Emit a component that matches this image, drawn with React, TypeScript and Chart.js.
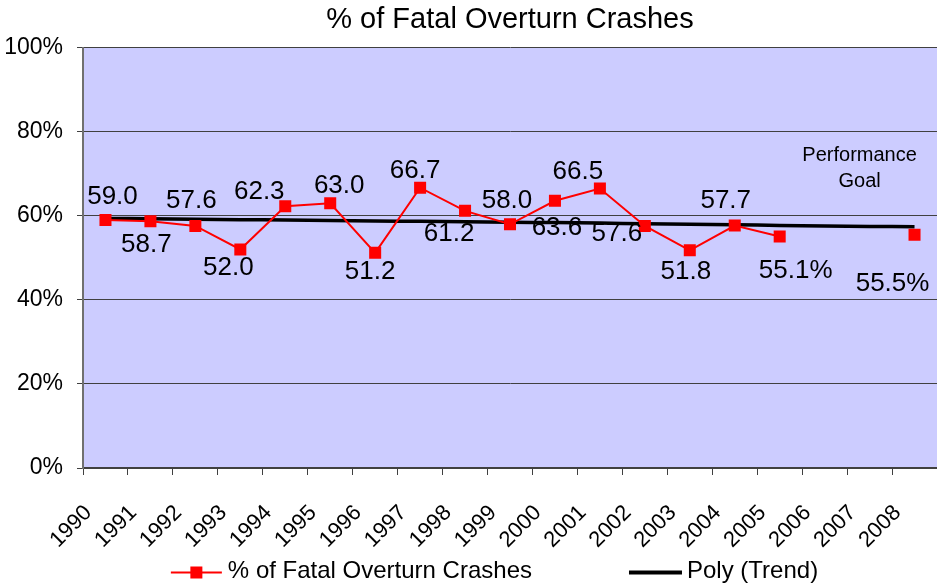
import React, { useEffect, useRef } from "react";
import { Chart, registerables } from "chart.js";

Chart.register(...registerables);

const FONT = "'Liberation Sans', Arial, sans-serif";

const YEARS = [
  "1990", "1991", "1992", "1993", "1994", "1995", "1996", "1997", "1998", "1999",
  "2000", "2001", "2002", "2003", "2004", "2005", "2006", "2007", "2008",
];

const FATAL_PCT: (number | null)[] = [
  59.0, 58.7, 57.6, 52.0, 62.3, 63.0, 51.2, 66.7, 61.2, 58.0,
  63.6, 66.5, 57.6, 51.8, 57.7, 55.1, null, null, 55.5,
];

const TREND = [
  59.4, 59.3, 59.2, 59.1, 59.0, 58.9, 58.8, 58.7, 58.6, 58.5,
  58.4, 58.3, 58.1, 58.0, 57.9, 57.7, 57.6, 57.5, 57.4,
];

const POINT_LABELS: (string | null)[] = [
  "59.0", "58.7", "57.6", "52.0", "62.3", "63.0", "51.2", "66.7", "61.2", "58.0",
  "63.6", "66.5", "57.6", "51.8", "57.7", "55.1%", null, null, "55.5%",
];

// label placement relative to its point (layout only)
const LABEL_OFFSETS: [number, number][] = [
  [7, -23], [-4, 23], [-4, -25], [-12, 18], [-26, -14], [9, -17], [-5, 19], [-5, -17], [-16, 23], [-3, -23],
  [2, 27], [-22, -17], [-28, 8], [-4, 21], [-9, -25], [16, 34], [0, 0], [0, 0], [-22, 49],
];

const Y_TICKS = [0, 20, 40, 60, 80, 100];

const TITLE = "% of Fatal Overturn Crashes";
const SERIES_NAME = "% of Fatal Overturn Crashes";
const TREND_NAME = "Poly (Trend)";
const GOAL_LINES = ["Performance", "Goal"];

const plotBg = {
  id: "plotBg",
  beforeDraw(chart: any) {
    const { ctx, chartArea: a } = chart;
    ctx.save();
    ctx.fillStyle = "#CCCCFF";
    ctx.fillRect(a.left, a.top, a.right - a.left, a.bottom - a.top);
    ctx.restore();
  },
};

const pointLabels = {
  id: "pointLabels",
  afterDatasetsDraw(chart: any) {
    const { ctx } = chart;
    const meta = chart.getDatasetMeta(0);
    ctx.save();
    ctx.font = `26px ${FONT}`;
    ctx.fillStyle = "#000";
    ctx.textAlign = "center";
    ctx.textBaseline = "middle";
    meta.data.forEach((pt: any, i: number) => {
      const txt = POINT_LABELS[i];
      if (!txt || FATAL_PCT[i] == null) return;
      const [dx, dy] = LABEL_OFFSETS[i];
      ctx.fillText(txt, pt.x + dx, pt.y + dy);
    });
    ctx.restore();
  },
};

const extras = {
  id: "extras",
  afterDraw(chart: any) {
    const { ctx, chartArea: a } = chart;
    const xs = chart.scales.x;
    ctx.save();
    // Performance goal note
    ctx.font = `20px ${FONT}`;
    ctx.fillStyle = "#000";
    ctx.textAlign = "center";
    ctx.textBaseline = "alphabetic";
    const gx = xs.getPixelForValue(17) - 10;
    ctx.fillText(GOAL_LINES[0], gx, a.top + 113);
    ctx.fillText(GOAL_LINES[1], gx, a.top + 139);

    // Legend
    ctx.font = `24px ${FONT}`;
    ctx.textAlign = "left";
    const w1 = ctx.measureText(SERIES_NAME).width;
    const w2 = ctx.measureText(TREND_NAME).width;
    const m1 = 51, m2 = 53, g = 6, gap = 97;
    const total = m1 + g + w1 + gap + m2 + g + w2;
    const cx = (a.left + a.right) / 2 - 15;
    let x = cx - total / 2;
    const ly = 572.5;
    ctx.strokeStyle = "#FF0000";
    ctx.lineWidth = 2;
    ctx.beginPath();
    ctx.moveTo(x, ly);
    ctx.lineTo(x + m1, ly);
    ctx.stroke();
    ctx.fillStyle = "#FF0000";
    ctx.fillRect(x + m1 / 2 - 6, ly - 6, 12, 12);
    ctx.fillStyle = "#000";
    ctx.fillText(SERIES_NAME, x + m1 + g, 578);
    x += m1 + g + w1 + gap;
    ctx.strokeStyle = "#000";
    ctx.lineWidth = 4;
    ctx.beginPath();
    ctx.moveTo(x, ly);
    ctx.lineTo(x + m2, ly);
    ctx.stroke();
    ctx.fillText(TREND_NAME, x + m2 + g - 1, 578);
    ctx.restore();
  },
};

export default function App() {
  const ref = useRef<HTMLCanvasElement | null>(null);

  useEffect(() => {
    if (!ref.current) return;
    const chart = new Chart(ref.current, {
      type: "line",
      data: {
        labels: YEARS,
        datasets: [
          {
            label: SERIES_NAME,
            data: FATAL_PCT,
            borderColor: "#FF0000",
            backgroundColor: "#FF0000",
            borderWidth: 2,
            pointStyle: "rect",
            pointRadius: 8.5,
            pointBorderWidth: 0,
            pointBackgroundColor: "#FF0000",
            spanGaps: false,
            tension: 0,
            order: 0,
          },
          {
            label: TREND_NAME,
            data: TREND,
            borderColor: "#000000",
            borderWidth: 3.5,
            pointRadius: 0,
            tension: 0.4,
            order: 1,
          },
        ],
      },
      options: {
        animation: false,
        responsive: true,
        maintainAspectRatio: false,
        events: [],
        layout: { padding: 0, autoPadding: false },
        plugins: {
          legend: { display: false },
          tooltip: { enabled: false },
          title: {
            display: true,
            text: TITLE,
            fullSize: false,
            color: "#000",
            font: { family: FONT, size: 29, weight: "normal" },
            padding: { top: 3, bottom: 10 },
          },
        },
        scales: {
          x: {
            offset: true,
            grid: {
              display: true,
              drawOnChartArea: false,
              offset: true,
              tickLength: 7,
              color: "#404040",
              lineWidth: 1,
            },
            border: { display: true, color: "#404040", width: 2 },
            ticks: {
              autoSkip: false,
              minRotation: 45,
              maxRotation: 45,
              labelOffset: -17,
              padding: 25,
              color: "#000",
              font: { family: FONT, size: 22 },
            },
            afterFit(scale: any) {
              scale.height = 119;
              scale.paddingLeft = 0;
              scale.paddingRight = 0;
            },
          },
          y: {
            min: 0,
            max: 100,
            afterBuildTicks(scale: any) {
              scale.ticks = Y_TICKS.map((v) => ({ value: v }));
            },
            grid: {
              color: "#404040",
              lineWidth: 1,
              tickLength: 6,
            },
            border: { display: true, color: "#707070", width: 2 },
            ticks: {
              padding: 14,
              color: "#000",
              font: { family: FONT, size: 23 },
              callback: (v: any) => `${v}%`,
            },
            afterFit(scale: any) {
              scale.width = 83;
            },
          },
        },
      },
      plugins: [plotBg, pointLabels, extras],
    });
    return () => chart.destroy();
  }, []);

  return (
    <div
      style={{
        position: "fixed",
        left: 0,
        top: 0,
        width: 937,
        height: 587,
        background: "#fff",
      }}
    >
      <canvas ref={ref} />
    </div>
  );
}
